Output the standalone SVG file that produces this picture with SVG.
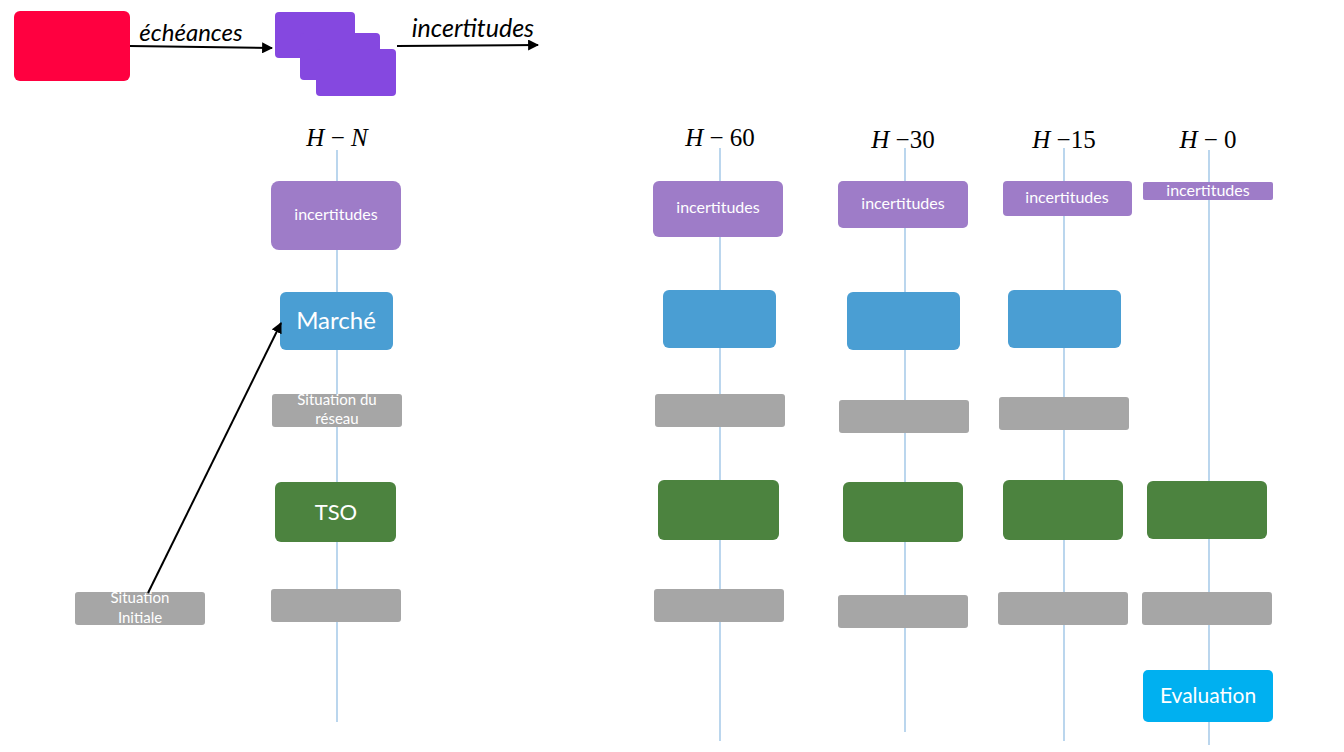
<svg xmlns="http://www.w3.org/2000/svg" width="1344" height="752" viewBox="0 0 1344 752">
<defs>
<marker id="ah" viewBox="0 0 10 10" refX="9" refY="5" markerWidth="5.5" markerHeight="5.5" orient="auto"><path d="M0,0 L10,5 L0,10 z" fill="#000"/></marker>
<style>
.t{font-family:Lato,"Liberation Sans",sans-serif;fill:#fff;text-anchor:middle}
.m{font-family:"Liberation Serif","DejaVu Serif",serif;font-size:25px;fill:#000;text-anchor:middle}
.m .i{font-style:italic}
.lab{font-family:Lato,"Liberation Sans",sans-serif;font-style:italic;fill:#000}
.ax{stroke:#8dbbe2;stroke-width:1.2;fill:none}
.pu{fill:#9e7cc8}.bl{fill:#4a9ed3}.gr{fill:#a6a6a6}.gn{fill:#4c833f}.ev{fill:#00b0f0}.st{fill:#8548e0}
.c{stroke:#000;stroke-width:2;fill:none;marker-end:url(#ah)}
</style>
</defs>
<rect width="1344" height="752" fill="#fff"/>
<g id="legend">
<rect x="14" y="11" width="116" height="70" rx="6" fill="#ff0040"/>
<rect class="st" x="275" y="12" width="80" height="46" rx="4"/>
<rect class="st" x="300" y="33" width="80" height="47" rx="4"/>
<rect class="st" x="316" y="49" width="80" height="47" rx="4"/>
<text class="lab" x="191" y="41" text-anchor="middle" font-size="24">échéances</text>
<text class="lab" x="473" y="37" text-anchor="middle" font-size="25">incertitudes</text>
</g>
<g id="axes">
<line class="ax" x1="337" y1="150" x2="337" y2="722"/>
<line class="ax" x1="720" y1="148" x2="720" y2="741"/>
<line class="ax" x1="905" y1="148" x2="905" y2="732"/>
<line class="ax" x1="1064" y1="148" x2="1064" y2="741"/>
<line class="ax" x1="1209" y1="150" x2="1209" y2="745"/>
</g>
<g id="headers">
<text class="m" x="337" y="146"><tspan class="i">H</tspan> − <tspan class="i">N</tspan></text>
<text class="m" x="720" y="146"><tspan class="i">H</tspan> − 60</text>
<text class="m" x="903" y="148"><tspan class="i">H</tspan> −30</text>
<text class="m" x="1064" y="148"><tspan class="i">H</tspan> −15</text>
<text class="m" x="1208" y="148"><tspan class="i">H</tspan> − 0</text>
</g>
<g id="col-HN">
<g id="n-inc-N"><rect class="pu" x="271" y="181" width="130" height="69" rx="8"/><text class="t" x="336" y="220" font-size="16">incertitudes</text></g>
<g id="n-marche-N"><rect class="bl" x="280" y="292" width="113" height="58" rx="6"/><text class="t" x="336" y="329" font-size="24">Marché</text></g>
<g id="n-reseau-N"><rect class="gr" x="272" y="394" width="130" height="33" rx="3"/><text class="t" x="337" y="405" font-size="15">Situation du</text><text class="t" x="337" y="424" font-size="15">réseau</text></g>
<g id="n-tso-N"><rect class="gn" x="275" y="482" width="121" height="60" rx="6"/><text class="t" x="336" y="520" font-size="22">TSO</text></g>
<g id="n-gray-N"><rect class="gr" x="271" y="589" width="130" height="33" rx="3"/></g>
</g>
<g id="n-init"><rect class="gr" x="75" y="592" width="130" height="33" rx="3"/><text class="t" x="140" y="603" font-size="15">Situation</text><text class="t" x="140" y="623" font-size="15">Initiale</text></g>
<g id="col-H60">
<g id="n-inc-60"><rect class="pu" x="653" y="181" width="130" height="56" rx="6"/><text class="t" x="718" y="213" font-size="16">incertitudes</text></g>
<rect id="n-m-60" class="bl" x="663" y="290" width="113" height="58" rx="6"/>
<rect id="n-r-60" class="gr" x="655" y="394" width="130" height="33" rx="3"/>
<rect id="n-t-60" class="gn" x="658" y="480" width="121" height="60" rx="6"/>
<rect id="n-g-60" class="gr" x="654" y="589" width="130" height="33" rx="3"/>
</g>
<g id="col-H30">
<g id="n-inc-30"><rect class="pu" x="838" y="181" width="130" height="47" rx="5"/><text class="t" x="903" y="209" font-size="16">incertitudes</text></g>
<rect id="n-m-30" class="bl" x="847" y="292" width="113" height="58" rx="6"/>
<rect id="n-r-30" class="gr" x="839" y="400" width="130" height="33" rx="3"/>
<rect id="n-t-30" class="gn" x="843" y="482" width="120" height="60" rx="6"/>
<rect id="n-g-30" class="gr" x="838" y="595" width="130" height="33" rx="3"/>
</g>
<g id="col-H15">
<g id="n-inc-15"><rect class="pu" x="1003" y="181" width="129" height="35" rx="4"/><text class="t" x="1067" y="203" font-size="16">incertitudes</text></g>
<rect id="n-m-15" class="bl" x="1008" y="290" width="113" height="58" rx="6"/>
<rect id="n-r-15" class="gr" x="999" y="397" width="130" height="33" rx="3"/>
<rect id="n-t-15" class="gn" x="1003" y="480" width="120" height="60" rx="6"/>
<rect id="n-g-15" class="gr" x="998" y="592" width="130" height="33" rx="3"/>
</g>
<g id="col-H0">
<g id="n-inc-0"><rect class="pu" x="1143" y="182" width="130" height="18" rx="2"/><text class="t" x="1208" y="196" font-size="16">incertitudes</text></g>
<rect id="n-t-0" class="gn" x="1147" y="481" width="120" height="58" rx="6"/>
<rect id="n-g-0" class="gr" x="1142" y="592" width="130" height="33" rx="3"/>
<g id="n-eval"><rect class="ev" x="1143" y="670" width="130" height="52" rx="5"/><text class="t" x="1208" y="703" font-size="21">Evaluation</text></g>
</g>
<g id="connectors">
<line class="c" x1="130" y1="46" x2="272" y2="48"/>
<line class="c" x1="397" y1="46" x2="538" y2="45"/>
<line class="c" x1="148" y1="593" x2="281" y2="323"/>
</g>
</svg>
